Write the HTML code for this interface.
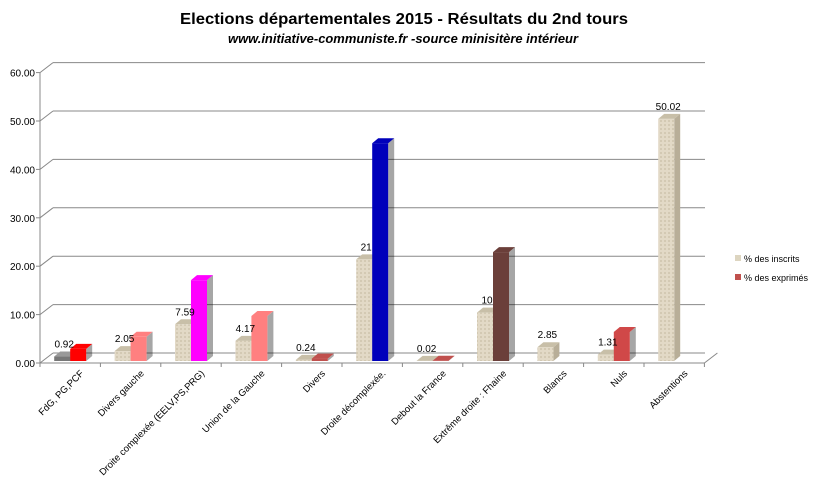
<!DOCTYPE html>
<html><head><meta charset="utf-8"><style>
html,body{margin:0;padding:0;background:#fff;}
svg{display:block;font-family:"Liberation Sans",sans-serif;}
</style></head><body>
<svg id="chart" width="819" height="482" viewBox="0 0 819 482" xmlns="http://www.w3.org/2000/svg">
<defs>
<pattern id="tex" width="4" height="4" patternUnits="userSpaceOnUse">
<rect width="4" height="4" fill="#e2d9c6"/><rect width="2" height="2" fill="#d3c9b3"/>
</pattern>
</defs>
<text x="404" y="24" text-anchor="middle" font-size="16" font-weight="bold" textLength="448" lengthAdjust="spacingAndGlyphs">Elections départementales 2015 - Résultats du 2nd tours</text>
<text x="403" y="43" text-anchor="middle" font-size="12.5" font-weight="bold" font-style="italic" textLength="350" lengthAdjust="spacingAndGlyphs">www.initiative-communiste.fr -source minisitère intérieur</text>
<g id="grid"></g>
<g id="bars"></g>
<g id="labels"></g>
<g>
<rect x="735" y="255" width="6" height="6" fill="#ddd5c0"/>
<text x="744" y="262" font-size="9">% des inscrits</text>
<rect x="735" y="274" width="6" height="6" fill="#c0504d"/>
<text x="744" y="281" font-size="9">% des exprimés</text>
</g>
</svg>
<script>
const categories=["FdG, PG,PCF","Divers gauche","Droite complexée (EELV,PS,PRG)","Union de la Gauche","Divers","Droite décomplexée.","Debout la France","Extrême droite : Fhaine","Blancs","Nuls","Abstentions"];
const inscrits=[0.92,2.05,7.59,4.17,0.24,21,0.02,10,2.85,1.31,50.02];
const inscritsLabels=["0.92","2.05","7.59","4.17","0.24","21","0.02","10","2.85","1.31","50.02"];
const exprimes=[2.5,5,16.7,9.3,0.5,45,0.05,22.5,0,6,0];
const exprimesColors=["#ff0000","#ff8080","#ff00ff","#ff8080","#c0504d","#0000bb","#c0504d","#6b3f3a","#c0504d","#d04848","#c0504d"];
const yTicks=[0,10,20,30,40,50,60];
const NS="http://www.w3.org/2000/svg";
const X0=40,Y0=361,CW=60.4,PX=4.84,DX=13,DY=10,BW=16,BDX=6,BDY=5;
function y(v){return Y0-v*PX;}
function cx(i){return X0+CW*i+CW/2;}
function mk(tag,attrs,parent){const e=document.createElementNS(NS,tag);for(const k in attrs)e.setAttribute(k,attrs[k]);parent.appendChild(e);return e;}
const grid=document.getElementById('grid'),bars=document.getElementById('bars'),labels=document.getElementById('labels');
// walls
mk('line',{x1:X0,y1:y(0)+2,x2:X0,y2:y(60)+2,stroke:'#888'},grid);
yTicks.forEach(t=>{
  const yy=y(t)+2;
  const g=mk('g',{},grid);
  
  
  mk('line',{x1:X0,y1:yy,x2:X0+DX,y2:yy-DY,stroke:'#888'},g);
  mk('line',{x1:X0+DX,y1:yy-DY,x2:705,y2:yy-DY,stroke:'#888'},g);
  mk('line',{x1:X0-4,y1:yy,x2:X0,y2:yy,stroke:'#888'},g);
  const tx=mk('text',{x:X0-5,y:yy+4,'text-anchor':'end','font-size':'10'},g);
  
  
  tx.textContent=t.toFixed(2);
});
// floor front edge
const fy=y(0)+2, xEnd=X0+CW*categories.length;
mk('line',{x1:X0,y1:fy,x2:xEnd,y2:fy,stroke:'#888'},grid);
mk('line',{x1:xEnd,y1:fy,x2:xEnd+DX,y2:fy-DY,stroke:'#888'},grid);
for(let i=0;i<=categories.length;i++){mk('line',{x1:X0+CW*i,y1:fy,x2:X0+CW*i,y2:fy+4,stroke:'#888'},grid);}
function bar(x,v,col,dark,top,name){
  const g=mk('g',{},bars);
  
  
  const yt=y(v);
  mk('polygon',{points:`${x+BW},${Y0} ${x+BW+BDX},${Y0-BDY} ${x+BW+BDX},${yt-BDY} ${x+BW},${yt}`,fill:dark},g);
  mk('polygon',{points:`${x},${yt} ${x+BDX},${yt-BDY} ${x+BW+BDX},${yt-BDY} ${x+BW},${yt}`,fill:top},g);
  mk('rect',{x:x,y:yt,width:BW,height:Y0-yt,fill:col},g);
}
categories.forEach((c,i)=>{
  const x=cx(i)-BW;
  const first=i===0;
  bar(x,inscrits[i],first?'#777':'url(#tex)',first?'#555':'#b8ae98',first?'#999':'#c8bfa8','bar-inscrits-'+i);
  if(exprimes[i]>0) bar(x+BW,exprimes[i],exprimesColors[i],'rgba(0,0,0,0.35)',exprimesColors[i],'bar-exprimes-'+i);
  const vl=mk('text',{x:x+BW/2+2,y:y(inscrits[i])-9,'text-anchor':'middle','font-size':'10'},labels);
  
  
  vl.textContent=inscritsLabels[i];
  const lx=cx(i)+14,ly=fy+11;
  const cl=mk('text',{x:lx,y:ly,'text-anchor':'end','font-size':'9.5',transform:`rotate(-45 ${lx} ${ly})`},labels);
  
  
  cl.textContent=c;
});
</script>
</body></html>
